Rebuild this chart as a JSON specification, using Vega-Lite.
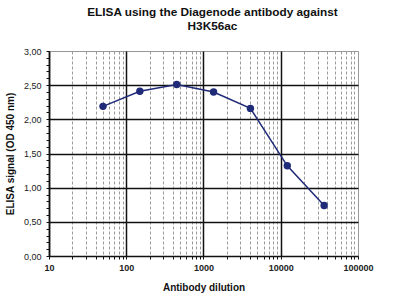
{
  "$schema": "https://vega.github.io/schema/vega-lite/v6.json",
  "width": 309,
  "height": 205,
  "autosize": {"type": "none"},
  "padding": {"left": 49, "top": 51, "right": 42, "bottom": 46},
  "background": "white",
  "config": {
    "font": "Liberation Sans",
    "view": {"stroke": "#999999", "strokeWidth": 1}
  },
  "title": {
    "text": ["ELISA using the Diagenode antibody against", "H3K56ac"],
    "fontSize": 11.8,
    "fontWeight": "bold",
    "color": "#111111",
    "anchor": "middle",
    "frame": "group",
    "dx": 9,
    "offset": 14,
    "lineHeight": 14
  },
  "data": {
    "values": [
      {"dilution": 50, "signal": 2.19},
      {"dilution": 150, "signal": 2.41},
      {"dilution": 450, "signal": 2.51},
      {"dilution": 1350, "signal": 2.40},
      {"dilution": 4050, "signal": 2.16},
      {"dilution": 12150, "signal": 1.32},
      {"dilution": 36450, "signal": 0.74}
    ]
  },
  "encoding": {
    "x": {
      "field": "dilution",
      "type": "quantitative",
      "scale": {"type": "log", "domain": [10, 100000], "nice": false},
      "axis": {
        "title": "Antibody dilution",
        "titleFontSize": 10,
        "titleFontWeight": "bold",
        "titleColor": "#111111",
        "titlePadding": 10,
        "values": [10,20,30,40,50,60,70,80,90,100,200,300,400,500,600,700,800,900,1000,2000,3000,4000,5000,6000,7000,8000,9000,10000,20000,30000,40000,50000,60000,70000,80000,90000,100000],
        "labelExpr": "abs(log(datum.value)/LN10 - round(log(datum.value)/LN10)) < 0.000001 ? datum.label : ''",
        "format": "d",
        "labelFontSize": 9,
        "labelFontWeight": "bold",
        "labelColor": "#222222",
        "labelPadding": 4,
        "labelFlush": false,
        "labelOverlap": false,
        "domainColor": "#111111",
        "domainWidth": 1.5,
        "tickColor": "#111111",
        "tickSize": 3,
        "grid": true,
        "gridColor": {"condition": {"test": "abs(log(datum.value)/LN10 - round(log(datum.value)/LN10)) < 0.000001 && datum.value < 50000", "value": "#111111"}, "value": "#9a9a9a"},
        "gridDash": {"condition": {"test": "abs(log(datum.value)/LN10 - round(log(datum.value)/LN10)) < 0.000001", "value": []}, "value": [3, 2]},
        "gridWidth": {"condition": {"test": "abs(log(datum.value)/LN10 - round(log(datum.value)/LN10)) < 0.000001 && datum.value < 50000", "value": 1.5}, "value": 1},
        "gridOpacity": 1
      }
    },
    "y": {
      "field": "signal",
      "type": "quantitative",
      "scale": {"domain": [0, 3], "nice": false, "zero": true},
      "axis": {
        "title": "ELISA signal (OD 450 nm)",
        "titleFontSize": 10,
        "titleFontWeight": "bold",
        "titleColor": "#111111",
        "titlePadding": 8,
        "values": [0,0.1,0.2,0.3,0.4,0.5,0.6,0.7,0.8,0.9,1,1.1,1.2,1.3,1.4,1.5,1.6,1.7,1.8,1.9,2,2.1,2.2,2.3,2.4,2.5,2.6,2.7,2.8,2.9,3],
        "labelExpr": "abs(datum.value*2 - round(datum.value*2)) < 0.000001 ? replace(format(datum.value, '.2f'), '.', ',') : ''",
        "labelFontSize": 9,
        "labelColor": "#222222",
        "labelPadding": 5,
        "labelFlush": false,
        "labelOverlap": false,
        "domainColor": "#111111",
        "domainWidth": 1.5,
        "tickColor": "#111111",
        "tickSize": 3,
        "grid": true,
        "gridColor": "#111111",
        "gridWidth": 1.6,
        "gridOpacity": {"condition": {"test": "abs(datum.value*2 - round(datum.value*2)) < 0.000001 && datum.value > 0.1 && datum.value < 2.9", "value": 1}, "value": 0}
      }
    }
  },
  "layer": [
    {"mark": {"type": "line", "color": "#1f2a78", "strokeWidth": 1.5}},
    {"mark": {"type": "point", "filled": true, "color": "#1f2a78", "size": 55, "opacity": 1}}
  ]
}
